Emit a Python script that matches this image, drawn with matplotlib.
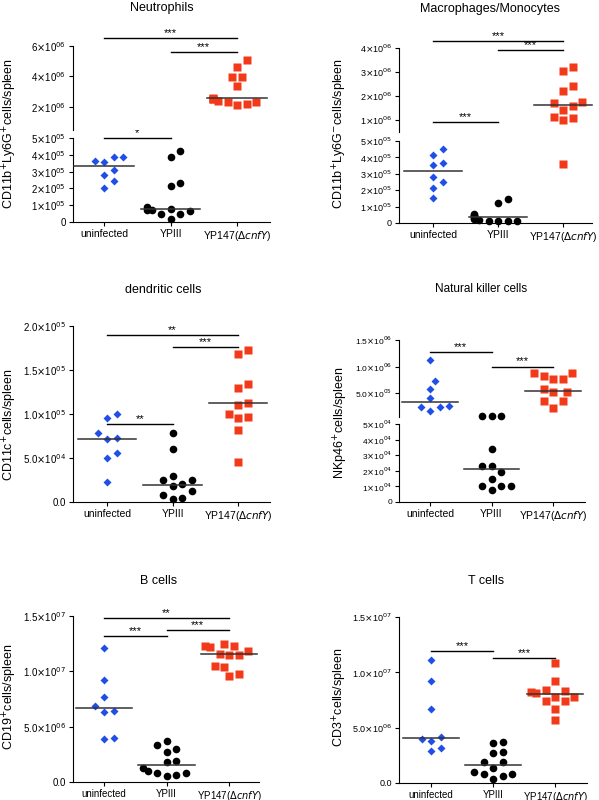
import numpy as np
import matplotlib
matplotlib.use("Agg")
import matplotlib.pyplot as plt

plt.rcParams["font.family"] = ["Liberation Sans", "DejaVu Sans"]

groups = ["uninfected", "YPIII", r"YP147($\Delta\mathit{cnfY}$)"]

# values (cells/spleen)
neu_uninf = [3.85e5, 3.6e5, 3.65e5, 3.88e5, 3.1e5, 2.8e5, 2.45e5, 2.0e5]
neu_ypiii = [4.25e5, 3.85e5, 2.15e5, 2.3e5, 0.9e5, 0.8e5, 0.7e5, 0.65e5, 0.5e5, 0.45e5, 0.2e5, 0.7e5]
neu_yp147 = [5.05e6, 4.65e6, 3.95e6, 3.95e6, 3.35e6, 2.6e6, 2.5e6, 2.3e6, 2.3e6, 2.1e6, 2.15e6, 2.4e6, 2.5e6]
neu_median = [3.35e5, 0.8e5, 2.55e6]

mac_uninf = [4.5e5, 4.15e5, 3.65e5, 3.55e5, 2.8e5, 2.5e5, 2.15e5, 1.55e5]
mac_ypiii = [1.45e5, 1.2e5, 0.55e5, 0.45e5, 0.3e5, 0.2e5, 0.15e5, 0.1e5, 0.1e5, 0.15e5, 0.25e5, 0.4e5, 0.5e5]
mac_yp147 = [3.2e6, 3.05e6, 2.4e6, 2.2e6, 1.75e6, 1.7e6, 1.55e6, 1.4e6, 1.1e6, 1.05e6, 1.0e6, 3.6e5]
mac_median = [3.2e5, 0.35e5, 1.6e6]

dc_uninf = [1.0e5, 0.95e5, 0.78e5, 0.72e5, 0.73e5, 0.56e5, 0.5e5, 0.23e5]
dc_ypiii = [0.78e5, 0.6e5, 0.29e5, 0.25e5, 0.25e5, 0.2e5, 0.18e5, 0.13e5, 0.08e5, 0.05e5, 0.03e5]
dc_yp147 = [1.73e5, 1.68e5, 1.34e5, 1.29e5, 1.12e5, 1.1e5, 1.0e5, 0.97e5, 0.95e5, 0.82e5, 0.45e5]
dc_median = [0.72e5, 0.19e5, 1.12e5]

nk_uninf = [1.13e6, 0.73e6, 0.58e6, 0.4e6, 0.25e6, 0.24e6, 0.23e6, 0.17e6]
nk_ypiii = [0.07e6, 0.066e6, 0.066e6, 3.4e4, 2.3e4, 2.3e4, 1.9e4, 1.5e4, 1.05e4, 1.0e4, 1.05e4, 0.75e4]
nk_yp147 = [0.87e6, 0.87e6, 0.82e6, 0.77e6, 0.77e6, 0.57e6, 0.52e6, 0.52e6, 0.36e6, 0.35e6, 0.22e6]
nk_median = [0.33e6, 2.1e4, 0.54e6]

b_uninf = [1.21e7, 0.92e7, 0.77e7, 0.69e7, 0.64e7, 0.63e7, 0.39e7, 0.40e7]
b_ypiii = [0.37e7, 0.33e7, 0.27e7, 0.30e7, 0.18e7, 0.19e7, 0.13e7, 0.10e7, 0.08e7, 0.085e7, 0.06e7, 0.05e7]
b_yp147 = [1.25e7, 1.23e7, 1.23e7, 1.22e7, 1.18e7, 1.16e7, 1.15e7, 1.15e7, 1.05e7, 1.04e7, 0.98e7, 0.96e7]
b_median = [0.67e7, 0.155e7, 1.155e7]

t_uninf = [1.11e7, 0.92e7, 0.67e7, 0.42e7, 0.40e7, 0.38e7, 0.32e7, 0.29e7]
t_ypiii = [0.37e7, 0.36e7, 0.27e7, 0.28e7, 0.19e7, 0.19e7, 0.14e7, 0.1e7, 0.08e7, 0.085e7, 0.06e7, 0.04e7]
t_yp147 = [1.08e7, 0.92e7, 0.83e7, 0.84e7, 0.82e7, 0.81e7, 0.78e7, 0.78e7, 0.74e7, 0.74e7, 0.67e7, 0.57e7]
t_median = [0.41e7, 0.165e7, 0.8e7]

styles = [dict(marker="D", color="#1f4fe6", ms=4.2), dict(marker="o", color="black", ms=5.5),
          dict(marker="s", color="#f23a1a", ms=5.2)]

W, H = 599, 800
fig = plt.figure(figsize=(W / 100, H / 100), dpi=100)


def sci(v, dec):
    if v == 0:
        return "0.0" if dec else "0"
    e = int(np.floor(np.log10(v)))
    m = v / 10 ** e
    ms = f"{m:.1f}" if dec else f"{m:.0f}"
    return r"%s$\times$10$^{%02d}$" % (ms, e)


def make_ax(L, R, T, B, g0, g2, lsize=7):
    ax = fig.add_axes([L / W, 1 - B / H, (R - L) / W, (B - T) / H])
    s = (g2 - g0) / 2
    ax.set_xlim((L - g0) / s, (R - g0) / s)
    for sp in ["top", "right"]:
        ax.spines[sp].set_visible(False)
    ax.tick_params(labelsize=lsize, length=3, width=0.8, pad=2)
    return ax, s


def swarm(vals, ax, s, d=9.5):
    pix = ax.transData.transform(np.column_stack([np.zeros(len(vals)), vals]))[:, 1]
    placed = []
    offs = np.zeros(len(vals))
    for i in np.argsort(pix):
        for k in [0, 1, -1, 2, -2, 3, -3, 4, -4, 5, -5]:
            o = k * d / 2
            if all((o - po) ** 2 + (pix[i] - py) ** 2 >= d * d * 0.95 for po, py in placed):
                break
        placed.append((o, pix[i]))
        offs[i] = o / s
    return offs


def draw_points(axes, series, median, breakv=None):
    for gi, vals in enumerate(series):
        vals = np.array(vals)
        if breakv is None:
            ax, s = axes
            x = gi + swarm(vals, ax, s)
            ax.plot(x, vals, ls="none", mec="none", clip_on=False, **styles[gi])
        else:
            (lo, s), (up, _) = axes
            for ax, mask in [(lo, vals <= breakv), (up, vals > breakv)]:
                if mask.any():
                    x = gi + swarm(vals[mask], ax, s)
                    ax.plot(x, vals[mask], ls="none", mec="none", clip_on=False, **styles[gi])
    for gi, m in enumerate(median):
        if breakv is None:
            ax = axes[0]
        else:
            ax = axes[0][0] if m <= breakv else axes[1][0]
        ax.plot([gi - 0.45, gi + 0.45], [m, m], color="#333333", lw=1.1, clip_on=False, zorder=3)


def sig(ax, i, j, y, txt):
    ax.plot([i, j], [y, y], color="black", lw=1, clip_on=False)
    ax.text((i + j) / 2, y, txt, ha="center", va="bottom", fontsize=8, clip_on=False)


def finish_x(ax, fs=7.5):
    ax.set_xticks([0, 1, 2])
    ax.set_xticklabels(groups, fontsize=fs)


def broken(L, R, lowT, lowB, upT, upB, g0, g2, lowlim, uplim, lowticks, upticks, dec_lo, dec_up, lsize=7):
    lo, s = make_ax(L, R, lowT, lowB, g0, g2, lsize)
    up, _ = make_ax(L, R, upT, upB, g0, g2, lsize)
    lo.set_ylim(*lowlim)
    up.set_ylim(*uplim)
    lo.set_yticks(lowticks)
    lo.set_yticklabels([sci(v, dec_lo) for v in lowticks])
    up.set_yticks(upticks)
    up.set_yticklabels([sci(v, dec_up) for v in upticks])
    up.spines["bottom"].set_visible(False)
    up.set_xticks([])
    finish_x(lo)
    return (lo, s), (up, s)


def ylabel(x, yc, text):
    fig.text(x / W, 1 - yc / H, text, rotation=90, ha="center", va="center", fontsize=9)


# Neutrophils
lo, up = broken(73, 270, 138, 222, 46, 130, 104, 237, (0, 5e5), (0.47e6, 6e6),
                [0, 1e5, 2e5, 3e5, 4e5, 5e5], [2e6, 4e6, 6e6], False, False)
draw_points((lo, up), [neu_uninf, neu_ypiii, neu_yp147], neu_median, breakv=5e5)
sig(up[0], 0, 2, 6.55e6, "***")
sig(up[0], 1, 2, 5.6e6, "***")
sig(lo[0], 0, 1, 5.0e5, "*")
fig.text(162 / W, 1 - 8 / H, "Neutrophils", ha="center", va="center", fontsize=9)
ylabel(10, 134, r"CD11b$^{+}$Ly6G$^{+}$cells/spleen")

# Macrophages/Monocytes
lo, up = broken(399, 592, 141, 223, 48, 132, 433, 563, (0, 5e5), (0.48e6, 4e6),
                [0, 1e5, 2e5, 3e5, 4e5, 5e5], [1e6, 2e6, 3e6, 4e6], False, False, lsize=6.5)
draw_points((lo, up), [mac_uninf, mac_ypiii, mac_yp147], mac_median, breakv=5e5)
sig(up[0], 0, 2, 4.3e6, "***")
sig(up[0], 1, 2, 3.9e6, "***")
sig(up[0], 0, 1, 0.9e6, "***")
fig.text(490 / W, 1 - 9 / H, "Macrophages/Monocytes", ha="center", va="center", fontsize=9)
ylabel(340, 134, r"CD11b$^{+}$Ly6G$^{-}$cells/spleen")

# dendritic cells
ax, s = make_ax(73, 270, 326, 502, 107, 238)
ax.set_ylim(0, 2e5)
dt = [0, 5e4, 1e5, 1.5e5, 2e5]
ax.set_yticks(dt)
ax.set_yticklabels([sci(v, True) for v in dt])
finish_x(ax)
draw_points((ax, s), [dc_uninf, dc_ypiii, dc_yp147], dc_median)
sig(ax, 0, 2, 1.9e5, "**")
sig(ax, 1, 2, 1.76e5, "***")
sig(ax, 0, 1, 0.89e5, "**")
fig.text(163 / W, 1 - 290 / H, "dendritic cells", ha="center", va="center", fontsize=9)
ylabel(10, 425, r"CD11c$^{+}$cells/spleen")

# Natural killer cells
lo, up = broken(399, 585, 424, 502, 340, 417, 430, 553, (0, 5e4), (5e4, 1.5e6),
                [0, 1e4, 2e4, 3e4, 4e4, 5e4], [5e5, 1e6, 1.5e6], False, True, lsize=6)
draw_points((lo, up), [nk_uninf, nk_ypiii, nk_yp147], nk_median, breakv=5e4)
sig(up[0], 0, 1, 1.28e6, "***")
sig(up[0], 1, 2, 1.0e6, "***")
fig.text(481 / W, 1 - 289 / H, "Natural killer cells", ha="center", va="center", fontsize=8.5)
ylabel(341, 423, r"NKp46$^{+}$cells/spleen")

# B cells
ax, s = make_ax(73, 259, 616, 782, 104, 229)
ax.set_ylim(0, 1.5e7)
bt = [0, 5e6, 1e7, 1.5e7]
ax.set_yticks(bt)
ax.set_yticklabels([sci(v, True) for v in bt])
finish_x(ax, 7)
draw_points((ax, s), [b_uninf, b_ypiii, b_yp147], b_median)
sig(ax, 0, 2, 1.48e7, "**")
sig(ax, 0, 1, 1.32e7, "***")
sig(ax, 1, 2, 1.37e7, "***")
fig.text(159 / W, 1 - 581 / H, "B cells", ha="center", va="center", fontsize=9)
ylabel(10, 697, r"CD19$^{+}$cells/spleen")

# T cells
ax, s = make_ax(399, 587, 617, 783, 431, 555, 6.5)
ax.set_ylim(0, 1.5e7)
ax.set_yticks(bt)
ax.set_yticklabels([sci(v, True) for v in bt])
finish_x(ax, 7)
draw_points((ax, s), [t_uninf, t_ypiii, t_yp147], t_median)
sig(ax, 0, 1, 1.19e7, "***")
sig(ax, 1, 2, 1.13e7, "***")
fig.text(486 / W, 1 - 581 / H, "T cells", ha="center", va="center", fontsize=9)
ylabel(340, 697, r"CD3$^{+}$cells/spleen")

fig.savefig("out.png", dpi=100)
